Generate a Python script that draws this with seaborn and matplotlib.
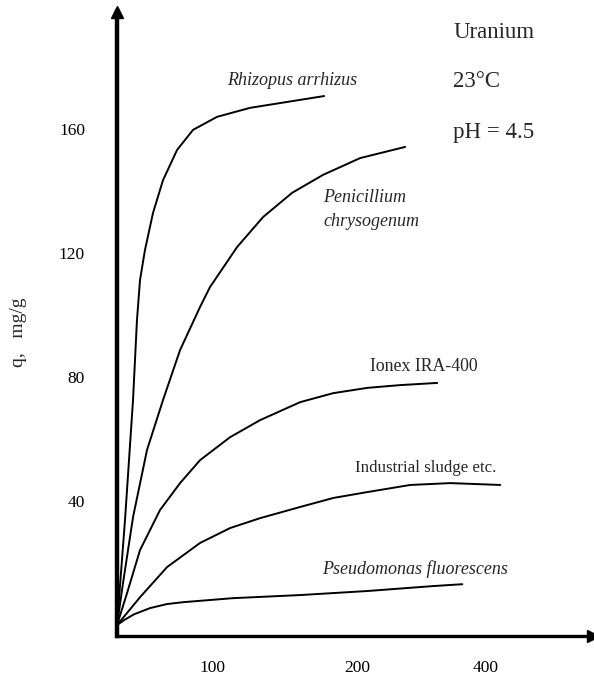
import numpy as np
import pandas as pd
import matplotlib
matplotlib.use("Agg")
import matplotlib.pyplot as plt
import seaborn as sns

sns.set_style("white")
plt.rcParams["font.family"] = ["Liberation Serif", "DejaVu Serif"]

# ---- data ----
rhizopus_x = [0, 8.7, 17.4, 21.7, 25, 30.4, 39.1, 50, 65.2, 82.6, 108.7, 144.6, 184.8, 225]
rhizopus_y = [0, 33.9, 72.6, 98.4, 111.3, 121, 132.9, 143.5, 153.2, 159.7, 163.9, 166.8, 168.7, 170.6]

penicillium_x = [0, 6.5, 17.4, 32.6, 50, 68.5, 90.2, 101, 130.4, 158.7, 190.2, 223.9, 264.1, 313]
penicillium_y = [0, 13.5, 34.8, 56.5, 72.6, 88.7, 102.6, 109, 121.9, 131.6, 139.4, 145.2, 150.6, 154.2]

ionex_x = [0, 10.9, 25, 46.7, 68.5, 90.2, 122.8, 155.4, 198.9, 234.8, 271.7, 307.6, 347.8]
ionex_y = [0, 10.3, 24.2, 37.1, 45.8, 53.2, 60.6, 66.1, 71.9, 74.8, 76.5, 77.4, 78.1]

sludge_x = [0, 25, 54.3, 90.2, 122.8, 155.4, 198.9, 234.8, 271.7, 318.5, 362, 416.3]
sludge_y = [0, 9, 18.7, 26.5, 31.3, 34.5, 38.1, 41, 42.9, 45.2, 45.8, 45.2]

pseudo_x = [0, 7.6, 18.5, 35.9, 54.3, 71.7, 126, 198.9, 271.7, 343.5, 375]
pseudo_y = [0, 1.6, 3.5, 5.5, 6.8, 7.4, 8.7, 9.7, 11, 12.6, 13.2]

series_names = ["Rhizopus arrhizus", "Penicillium chrysogenum", "Ionex IRA-400",
                "Industrial sludge etc.", "Pseudomonas fluorescens"]

x_tick_pos = [104, 261, 400]
x_tick_labels = ["100", "200", "400"]
y_ticks = [40, 80, 120, 160]
y_tick_labels = ["40", "80", "120", "160"]

frames = []
for name, xs, ys in zip(series_names,
                        [rhizopus_x, penicillium_x, ionex_x, sludge_x, pseudo_x],
                        [rhizopus_y, penicillium_y, ionex_y, sludge_y, pseudo_y]):
    frames.append(pd.DataFrame({"x": xs, "q": ys, "series": name}))
df = pd.concat(frames, ignore_index=True)

# ---- figure ----
W, H = 594, 678
fig = plt.figure(figsize=(W / 100, H / 100), dpi=100)
ax = fig.add_axes([117 / W, (H - 636) / H, (593 - 117) / W, (636 - 12) / H])

sns.lineplot(data=df, x="x", y="q", hue="series", units="series", estimator=None,
             sort=False, palette=["black"] * 5, legend=False, linewidth=1.4, ax=ax)

ax.set_xlim(0, 517)
ax.set_ylim(-3.5, 197.7)

for s in ["top", "right"]:
    ax.spines[s].set_visible(False)
ax.spines["left"].set_linewidth(3.2)
ax.spines["bottom"].set_linewidth(2.4)
ax.spines["left"].set_color("black")
ax.spines["bottom"].set_color("black")

# axis arrows
ax.plot(0, 1, marker="^", color="black", markersize=9, transform=ax.transAxes, clip_on=False)
ax.plot(1, 0, marker=">", color="black", markersize=9, transform=ax.transAxes, clip_on=False)

ax.set_xticks(x_tick_pos)
ax.set_xticklabels(x_tick_labels)
ax.set_yticks(y_ticks)
ax.set_yticklabels(y_tick_labels)
ax.tick_params(axis="both", direction="out", length=11, width=1.3, labelsize=12.5,
               colors="black", pad=3)
ax.tick_params(axis="y", pad=12)
ax.tick_params(axis="x", pad=6)

ax.set_xlabel("")
ax.set_ylabel("q,   mg/g", fontsize=14)
ax.yaxis.set_label_coords(-0.19, 0.486)

# curve labels
ax.text(119.6, 175.5, "Rhizopus arrhizus", style="italic", fontsize=13, va="center", ha="left")
ax.text(224, 138, "Penicillium", style="italic", fontsize=13, va="center", ha="left")
ax.text(224, 130, "chrysogenum", style="italic", fontsize=13, va="center", ha="left")
ax.text(275, 83.5, "Ionex IRA-400", fontsize=12.8, va="center", ha="left")
ax.text(258.7, 50.6, "Industrial sludge etc.", fontsize=12.2, va="center", ha="left")
ax.text(222.8, 18, "Pseudomonas fluorescens", style="italic", fontsize=13, va="center", ha="left")

# conditions
ax.text(365.2, 191, "Uranium", fontsize=16.5, va="center", ha="left")
ax.text(365.2, 175.2, "23°C", fontsize=16.5, va="center", ha="left")
ax.text(365.2, 159, "pH = 4.5", fontsize=16.5, va="center", ha="left")

fig.savefig("out.png", dpi=100, facecolor="white")
